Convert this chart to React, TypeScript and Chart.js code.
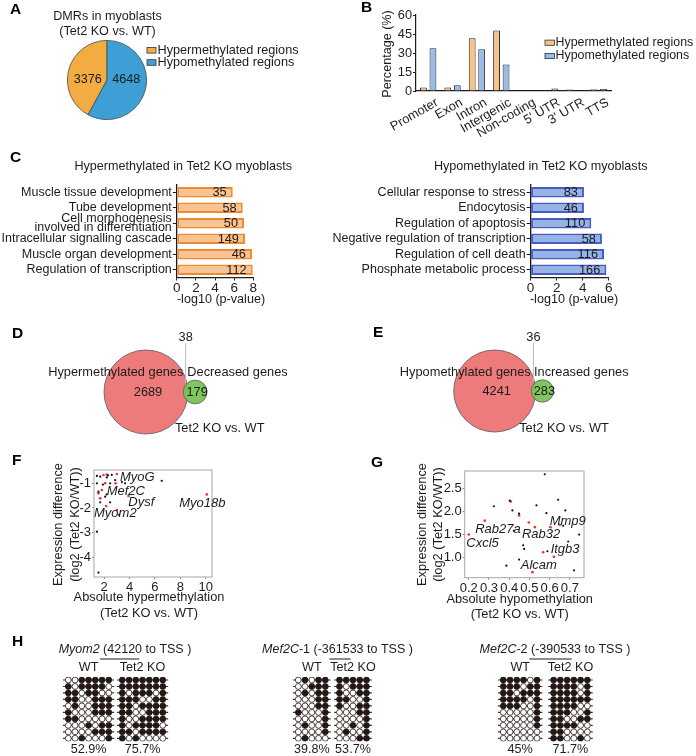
import React, { useEffect, useRef } from 'react';
import { Chart, registerables } from 'chart.js';

Chart.register(...registerables);

const W = 696;
const H = 756;
const FAMILY = "'Liberation Sans', Arial, Helvetica, sans-serif";
const INK = '#1c1c1c';
const FS = 12.6;

Chart.defaults.font.family = FAMILY;
Chart.defaults.font.size = FS;
Chart.defaults.color = INK;

// ---------------- A: DMR counts ----------------
const dmrLabels = ['Hypermethylated regions', 'Hypomethylated regions'];
const dmrCounts = [3376, 4648];
const dmrColors = ['#F2AC42', '#3D9FD6'];

// ---------------- B: genomic features ----------------
const featureLabels = ['Promoter', 'Exon', 'Intron', 'Intergenic', 'Non-coding', "5' UTR", "3' UTR", 'TTS'];
const hyperFeaturePct = [2.7, 2.7, 41.7, 47.7, 0.3, 0.3, 1.1, 1.4];
const hypoFeaturePct = [33.8, 4.5, 33.0, 21.0, 0.5, 1.9, 0.5, 1.6];
const pctTicks = [0, 15, 30, 45, 60];
const featureColors = ['#F8C28B', '#9BBCE7'];

// ---------------- C: GO terms ----------------
const hyperTitle = 'Hypermethylated in Tet2 KO myoblasts';
const hyperTerms = [
  'Muscle tissue development',
  'Tube development',
  ['Cell morphogenesis', 'involved in differentiation'],
  'Intracellular signalling cascade',
  'Muscle organ development',
  'Regulation of transcription',
];
const hyperLogP = [5.85, 6.89, 7.03, 7.13, 7.86, 7.94];
const hyperGenes = [35, 58, 50, 149, 46, 112];
const hyperTicks = [0, 2, 4, 6, 8];

const hypoTitle = 'Hypomethylated in Tet2 KO myoblasts';
const hypoTerms = [
  'Cellular response to stress',
  'Endocytosis',
  'Regulation of apoptosis',
  'Negative regulation of transcription',
  'Regulation of cell death',
  'Phosphate metabolic process',
];
const hypoLogP = [4.1, 4.1, 4.66, 5.48, 5.64, 5.82];
const hypoGenes = [83, 46, 110, 58, 116, 166];
const hypoTicks = [0, 2, 4, 6];

// ---------------- D / E: overlaps (only A, both, only B) ----------------
const vennDNames = ['Hypermethylated genes', 'Decreased genes'];
const vennDCounts = [2689, 38, 179];
const vennENames = ['Hypomethylated genes', 'Increased genes'];
const vennECounts = [4241, 36, 283];

// ---------------- F: hypermethylated & decreased ----------------
const fOtherGenes = [
  [1.43, -0.70], [1.69, -0.73], [2.21, -0.76], [2.3, -0.68], [2.6, -0.66], [2.87, -0.87],
  [3.4, -0.95], [3.65, -1.0], [6.54, -0.9], [1.43, -1.0], [1.9, -1.05], [2.47, -1.0],
  [1.55, -1.34], [2.2, -1.45], [2.08, -1.54], [1.69, -1.77], [2.47, -1.77], [3.18, -2.28],
  [1.43, -2.96], [1.55, -4.62],
];
const fMuscleGenes = [
  [1.95, -0.66], [2.21, -0.64], [3.0, -0.62], [2.08, -1.0], [2.9, -1.0], [1.82, -1.27],
  [1.55, -1.4], [1.69, -1.61], [2.16, -1.92], [3.92, -1.51], [3.0, -2.08], [10.09, -1.45],
];
const fGeneNames = ['MyoG', 'Mef2C', 'Dysf', 'Myo18b', 'Myom2'];
const fXTicks = [2, 4, 6, 8, 10];
const fYTicks = [-1, -2, -3, -4];

// ---------------- G: hypomethylated & increased ----------------
const gOtherGenes = [
  [0.576, 2.80], [0.324, 2.11], [0.403, 2.23], [0.416, 2.02], [0.449, 1.95], [0.535, 2.13],
  [0.642, 2.25], [0.678, 2.02], [0.584, 1.96], [0.746, 1.50], [0.423, 1.58], [0.469, 1.27],
  [0.474, 1.19], [0.449, 0.96], [0.386, 0.83], [0.589, 1.14], [0.721, 0.73], [0.692, 1.35],
  [0.667, 1.69],
];
const gMarkedGenes = [
  [0.2, 1.5], [0.279, 1.80], [0.408, 2.21], [0.449, 1.91], [0.497, 1.76], [0.527, 1.66],
  [0.568, 1.12], [0.604, 1.66], [0.621, 1.02], [0.515, 0.69], [0.65, 1.71],
];
const gGeneNames = ['Mmp9', 'Rab27a', 'Rab32', 'Cxcl5', 'Itgb3', 'Alcam'];
const gXTicks = [0.2, 0.3, 0.4, 0.5, 0.6, 0.7];
const gYTicks = [1.0, 1.5, 2.0, 2.5];

// ---------------- H: bisulfite clones (1 = methylated CpG) ----------------
const myom2WT = ['0011111', '1011110', '1101100', '1100111', '0100111', '1000111', '1100000', '0001011', '0000111', '0010001'];
const myom2KO = ['1111111', '1111111', '1011101', '1110011', '1101111', '1100111', '1001111', '1011110', '1101111', '1010000'];
const myom2Pct = ['52.9%', '75.7%'];
const mef2c1WT = ['01011', '00111', '01011', '00011', '00011', '10001', '00001', '01001', '00001', '01000'];
const mef2c1KO = ['11111', '10111', '10011', '11001', '10011', '00011', '00001', '00101', '01001', '00011'];
const mef2c1Pct = ['39.8%', '53.7%'];
const mef2c2WT = ['111101', '111011', '110111', '111101', '111001', '000001', '000001', '000001', '000000', '000000'];
const mef2c2KO = ['111111', '111101', '111101', '111111', '111100', '111001', '110011', '111100', '110000', '110010'];
const mef2c2Pct = ['45%', '71.7%'];
const groupNames = ['WT', 'Tet2 KO'];

// ---------------- helpers ----------------
type TOpt = { size?: number; italic?: boolean; bold?: boolean; align?: CanvasTextAlign; base?: CanvasTextBaseline; rot?: number; color?: string };

function fnt(o: TOpt) {
  return `${o.italic ? 'italic ' : ''}${o.bold ? 'bold ' : ''}${o.size ?? FS}px ${FAMILY}`;
}

function text(ctx: CanvasRenderingContext2D, t: string, x: number, y: number, o: TOpt = {}) {
  ctx.save();
  ctx.font = fnt(o);
  ctx.fillStyle = o.color ?? INK;
  ctx.textAlign = o.align ?? 'center';
  ctx.textBaseline = o.base ?? 'middle';
  ctx.translate(x, y);
  if (o.rot) ctx.rotate(o.rot);
  ctx.fillText(t, 0, 0);
  ctx.restore();
}

function letter(ctx: CanvasRenderingContext2D, t: string, x: number, y: number) {
  text(ctx, t, x, y, { bold: true, size: 15.5, align: 'left', base: 'alphabetic', color: '#000' });
}

function mixedText(ctx: CanvasRenderingContext2D, parts: { t: string; italic?: boolean }[], cx: number, y: number, size = 12.5) {
  ctx.save();
  let total = 0;
  const widths = parts.map((p) => {
    ctx.font = fnt({ size, italic: p.italic });
    const w = ctx.measureText(p.t).width;
    total += w;
    return w;
  });
  let x = cx - total / 2;
  ctx.fillStyle = INK;
  ctx.textAlign = 'left';
  ctx.textBaseline = 'middle';
  parts.forEach((p, i) => {
    ctx.font = fnt({ size, italic: p.italic });
    ctx.fillText(p.t, x, y);
    x += widths[i];
  });
  ctx.restore();
}

function seg(ctx: CanvasRenderingContext2D, x1: number, y1: number, x2: number, y2: number, color = INK, width = 1) {
  ctx.save();
  ctx.strokeStyle = color;
  ctx.lineWidth = width;
  ctx.beginPath();
  ctx.moveTo(x1, y1);
  ctx.lineTo(x2, y2);
  ctx.stroke();
  ctx.restore();
}

function swatch(ctx: CanvasRenderingContext2D, x: number, y: number, w: number, h: number, fill: string) {
  ctx.save();
  ctx.fillStyle = fill;
  ctx.fillRect(x, y, w, h);
  ctx.strokeStyle = '#333';
  ctx.lineWidth = 0.8;
  ctx.strokeRect(x, y, w, h);
  ctx.restore();
}

// chart area placed at [L,R]x[T,B] on a full-page canvas
function frame(L: number, T: number, R: number, B: number, yW = 0, xH = 0) {
  return { padding: { left: L - yW, top: T, right: W - R, bottom: H - B - xH } };
}

const noPlugins = { legend: { display: false }, tooltip: { enabled: false } };
const base = { responsive: false, animation: false, events: [] as any[] };
const fixedTicks = (vals: number[]) => (s: any) => {
  s.ticks = vals.map((value) => ({ value }));
};

// ---------------- A ----------------
function cfgA() {
  const total = dmrCounts.reduce((a, b) => a + b, 0);
  return {
    type: 'pie',
    data: {
      labels: dmrLabels,
      datasets: [{
        data: dmrCounts,
        backgroundColor: dmrColors,
        borderColor: '#4a4a4a',
        borderWidth: 0.8,
        rotation: (-360 * dmrCounts[0]) / total,
      }],
    },
    options: { ...base, layout: frame(67, 40, 147, 120), plugins: noPlugins },
    plugins: [{
      id: 'annA',
      afterDraw(chart: any) {
        const ctx = chart.ctx;
        letter(ctx, 'A', 10, 13.5);
        text(ctx, 'DMRs in myoblasts', 107.5, 17);
        text(ctx, '(Tet2 KO vs. WT)', 107.5, 32);
        chart.getDatasetMeta(0).data.forEach((arc: any, i: number) => {
          const p = arc.tooltipPosition();
          text(ctx, String(dmrCounts[i]), p.x, arc.y, { size: 12.6 });
        });
        dmrLabels.forEach((lab, i) => {
          const y = 50.3 + i * 12.2;
          swatch(ctx, 147, y - 2.8, 9, 5.6, dmrColors[i]);
          text(ctx, lab, 157.5, y, { align: 'left', size: 12.7 });
        });
      },
    }],
  };
}

// ---------------- B ----------------
function cfgB() {
  return {
    type: 'bar',
    data: {
      labels: featureLabels,
      datasets: [
        { label: dmrLabels[0], data: hyperFeaturePct, backgroundColor: featureColors[0], borderColor: '#2b2b2b', borderWidth: 1 },
        { label: dmrLabels[1], data: hypoFeaturePct, backgroundColor: featureColors[1], borderColor: '#2b2b2b', borderWidth: 1 },
      ],
    },
    options: {
      ...base,
      layout: frame(416, 15, 611, 91, 68, 49),
      plugins: noPlugins,
      datasets: { bar: { categoryPercentage: 0.78, barPercentage: 0.72 } },
      scales: {
        x: {
          grid: { display: false },
          border: { color: INK, width: 1.2 },
          ticks: { minRotation: 30, maxRotation: 30, autoSkip: false, padding: -4, labelOffset: 9, font: { size: 12.8 }, color: INK },
          afterFit: (s: any) => { s.height = 49; },
        },
        y: {
          min: 0,
          max: 60,
          afterBuildTicks: fixedTicks(pctTicks),
          grid: { drawOnChartArea: false, tickLength: 3, color: INK },
          border: { color: INK, width: 1.2 },
          ticks: { padding: 1, font: { size: 12.8 }, color: INK },
          afterFit: (s: any) => { s.width = 68; },
        },
      },
    },
    plugins: [{
      id: 'annB',
      afterDraw(chart: any) {
        const ctx = chart.ctx;
        letter(ctx, 'B', 361, 12);
        text(ctx, 'Percentage (%)', 388, 54, { rot: -Math.PI / 2 });
        chart.data.datasets.forEach((ds: any, i: number) => {
          const y = 42.7 + i * 13.3;
          swatch(ctx, 545, y - 2.6, 9.5, 5.2, ds.backgroundColor);
          text(ctx, ds.label, 555.5, y, { align: 'left', size: 12.4 });
        });
      },
    }],
  };
}

// ---------------- C ----------------
function cfgC(o: {
  terms: any[]; values: number[]; genes: number[]; ticks: number[]; max: number;
  L: number; R: number; yW: number; fill: string; stroke: string; title: string; titleX: number; axisTitleX: number; withLetter: boolean;
}) {
  return {
    type: 'bar',
    data: {
      labels: o.terms,
      datasets: [{
        data: o.values,
        backgroundColor: o.fill,
        borderColor: o.stroke,
        borderWidth: 2,
        borderSkipped: false,
        categoryPercentage: 1,
        barPercentage: 0.69,
      }],
    },
    options: {
      ...base,
      indexAxis: 'y',
      layout: frame(o.L, 184.5, o.R, 277.5, o.yW, 20),
      plugins: noPlugins,
      scales: {
        x: {
          min: 0,
          max: o.max,
          afterBuildTicks: fixedTicks(o.ticks),
          grid: { drawOnChartArea: false, tickLength: 3, color: INK },
          border: { color: INK, width: 1.3 },
          ticks: { padding: 0, maxRotation: 0, font: { size: 13.5 }, color: INK },
          afterFit: (s: any) => { s.height = 20; },
        },
        y: {
          grid: { drawOnChartArea: false, offset: false, tickLength: 4, color: INK },
          border: { color: INK, width: 1.3 },
          ticks: { padding: 1, autoSkip: false, font: { size: 12.5, lineHeight: 0.68 }, color: INK },
          afterFit: (s: any) => { s.width = o.yW; },
        },
      },
    },
    plugins: [{
      id: 'annC',
      afterDraw(chart: any) {
        const ctx = chart.ctx;
        if (o.withLetter) letter(ctx, 'C', 10, 162);
        text(ctx, o.title, o.titleX, 166.7);
        text(ctx, '-log10 (p-value)', o.axisTitleX, 299.5);
        chart.getDatasetMeta(0).data.forEach((bar: any, i: number) => {
          text(ctx, String(o.genes[i]), bar.x - 6, bar.y + 0.5, { align: 'right', size: 12.8 });
        });
      },
    }],
  };
}

// ---------------- D / E ----------------
function cfgVenn(o: {
  counts: number[]; names: string[]; cx: number; cy: number; rBig: number; letterText: string; letterX: number; letterY: number;
  nameAX: number; nameBX: number; cmpX: number;
}) {
  const [onlyA, both, onlyB] = o.counts;
  const k = o.rBig / Math.sqrt(onlyA + both);
  const rSmall = k * Math.sqrt(onlyB + both);
  const dx = o.rBig + rSmall * 0.6;
  return {
    type: 'bubble',
    data: {
      datasets: [{
        data: [{ x: 0, y: 0, r: o.rBig }, { x: dx, y: 0, r: rSmall }],
        backgroundColor: ['#EE7B7C', 'rgba(122,195,90,0.96)'],
        borderColor: '#595959',
        borderWidth: 0.8,
      }],
    },
    options: {
      ...base,
      layout: frame(o.cx - 60, o.cy - 55, o.cx + 100, o.cy + 55),
      plugins: noPlugins,
      scales: {
        x: { type: 'linear', display: false, min: -60, max: 100 },
        y: { type: 'linear', display: false, min: -55, max: 55 },
      },
    },
    plugins: [{
      id: 'annVenn',
      afterDraw(chart: any) {
        const ctx = chart.ctx;
        const xs = chart.scales.x;
        const ys = chart.scales.y;
        const xBig = xs.getPixelForValue(0);
        const xSmall = xs.getPixelForValue(dx);
        const yc = ys.getPixelForValue(0);
        const xOv = xs.getPixelForValue((o.rBig + dx - rSmall) / 2);
        letter(ctx, o.letterText, o.letterX, o.letterY);
        seg(ctx, xOv, 343, xOv, yc - 9, '#BDBDBD', 1);
        text(ctx, String(both), xOv, 337, { size: 12.8 });
        text(ctx, o.names[0], o.nameAX, 372, { size: 12.8 });
        text(ctx, o.names[1], o.nameBX, 372, { size: 12.8 });
        text(ctx, String(onlyA), xBig + 2, yc, { size: 12.8 });
        text(ctx, String(onlyB), xSmall + 2, yc, { size: 12.8 });
        text(ctx, 'Tet2 KO vs. WT', o.cmpX, 428, { size: 12.8 });
      },
    }],
  };
}

// ---------------- F / G ----------------
function cfgScatter(o: {
  other: number[][]; marked: number[][]; L: number; T: number; R: number; B: number;
  xMin: number; xMax: number; yMin: number; yMax: number; xTicks: number[]; yTicks: number[]; dec: number;
  genes: string[]; anchors: number[][]; letterText: string; letterX: number; letterY: number;
  yTitleX: number[]; yTitleY: number; xTitle: string; xTitleX: number; xTitleY: number;
}) {
  const fmt = (v: any) => (o.dec ? Number(v).toFixed(o.dec) : String(v));
  return {
    type: 'scatter',
    data: {
      datasets: [
        { data: o.other.map(([x, y]) => ({ x, y })), pointRadius: 1.1, pointBackgroundColor: '#111', pointBorderWidth: 0, pointBorderColor: 'rgba(0,0,0,0)' },
        { data: o.marked.map(([x, y]) => ({ x, y })), pointRadius: 1.3, pointBackgroundColor: '#EC3030', pointBorderWidth: 0, pointBorderColor: 'rgba(0,0,0,0)' },
      ],
    },
    options: {
      ...base,
      layout: frame(o.L, o.T, o.R, o.B, 32, 20),
      plugins: noPlugins,
      scales: {
        x: {
          type: 'linear', min: o.xMin, max: o.xMax,
          afterBuildTicks: fixedTicks(o.xTicks),
          grid: { drawOnChartArea: false, tickLength: 2, color: '#8a8a8a' },
          border: { display: false },
          ticks: { padding: 1, minRotation: 0, maxRotation: 0, autoSkip: false, font: { size: 13 }, color: INK, callback: fmt },
          afterFit: (s: any) => { s.height = 20; },
        },
        y: {
          type: 'linear', min: o.yMin, max: o.yMax,
          afterBuildTicks: fixedTicks(o.yTicks),
          grid: { drawOnChartArea: false, tickLength: 2, color: '#8a8a8a' },
          border: { display: false },
          ticks: { padding: 1, autoSkip: false, font: { size: 13 }, color: INK, callback: fmt },
          afterFit: (s: any) => { s.width = 32; },
        },
      },
    },
    plugins: [{
      id: 'annSc',
      beforeDatasetsDraw(chart: any) {
        const { ctx, chartArea: a } = chart;
        ctx.save();
        ctx.strokeStyle = '#A6A6A6';
        ctx.lineWidth = 1;
        ctx.strokeRect(a.left, a.top, a.right - a.left, a.bottom - a.top);
        ctx.restore();
      },
      afterDraw(chart: any) {
        const ctx = chart.ctx;
        const xs = chart.scales.x;
        const ys = chart.scales.y;
        letter(ctx, o.letterText, o.letterX, o.letterY);
        o.genes.forEach((g, i) => {
          text(ctx, g, xs.getPixelForValue(o.anchors[i][0]), ys.getPixelForValue(o.anchors[i][1]), { italic: true, align: 'left', size: 13 });
        });
        text(ctx, 'Expression difference', o.yTitleX[0], o.yTitleY, { rot: -Math.PI / 2, size: 12.8 });
        text(ctx, '(log2 (Tet2 KO/WT))', o.yTitleX[1], o.yTitleY, { rot: -Math.PI / 2, size: 12.8 });
        text(ctx, o.xTitle, o.xTitleX, o.xTitleY, { size: 12.8 });
        text(ctx, '(Tet2 KO vs. WT)', o.xTitleX, o.xTitleY + 15.5, { size: 12.8 });
      },
    }],
  };
}

// ---------------- H ----------------
const DOT = '#231815';
const STEP = 6.75;
function cfgMethyl(o: {
  gene: string; rest: string; wt: string[]; ko: string[]; pct: string[]; gap: number; L: number; cx: number; under: number[]; withLetter: boolean;
}) {
  const n = o.wt[0].length;
  const koOff = n - 1 + o.gap;
  const xMax = koOff + n;
  const R = o.L + (xMax + 1) * STEP;
  const pts = (rows: string[], off: number) =>
    rows.flatMap((row, r) => row.split('').map((ch, c) => ({ x: off + c, y: r, m: ch === '1' })));
  const ds = (p: { x: number; y: number; m: boolean }[]) => ({
    data: p.map(({ x, y }) => ({ x, y })),
    pointRadius: 2.95,
    pointBackgroundColor: p.map((q) => (q.m ? DOT : '#ffffff')),
    pointBorderColor: DOT,
    pointBorderWidth: 0.8,
  });
  return {
    type: 'scatter',
    data: { datasets: [ds(pts(o.wt, 0)), ds(pts(o.ko, koOff))] },
    options: {
      ...base,
      layout: frame(o.L, 676.76, R, 741.56),
      plugins: noPlugins,
      scales: {
        x: { type: 'linear', display: false, min: -1, max: xMax },
        y: { type: 'linear', display: false, min: -0.5, max: 9.5, reverse: true },
      },
    },
    plugins: [{
      id: 'annH',
      beforeDatasetsDraw(chart: any) {
        const ctx = chart.ctx;
        const xs = chart.scales.x;
        const ys = chart.scales.y;
        for (let r = 0; r < o.wt.length; r++) {
          const y = ys.getPixelForValue(r);
          [0, koOff].forEach((off) => {
            seg(ctx, xs.getPixelForValue(off - 0.8), y, xs.getPixelForValue(off + n - 1 + 0.8), y, '#3a3a3a', 1.2);
          });
        }
      },
      afterDraw(chart: any) {
        const ctx = chart.ctx;
        const xs = chart.scales.x;
        if (o.withLetter) letter(ctx, 'H', 12, 646);
        mixedText(ctx, [{ t: o.gene, italic: true }, { t: o.rest }], o.cx, 650, 12.5);
        seg(ctx, o.under[0], 659, o.under[1], 659, INK, 1);
        [0, koOff].forEach((off, i) => {
          const gx = xs.getPixelForValue(off + (n - 1) / 2);
          text(ctx, groupNames[i], gx, 667.7, { size: 12.6 });
          text(ctx, o.pct[i], gx, 749.3, { size: 12.6 });
        });
      },
    }],
  };
}

const builders: (() => any)[] = [
  cfgA,
  cfgB,
  () => cfgC({
    terms: hyperTerms, values: hyperLogP, genes: hyperGenes, ticks: hyperTicks, max: 8,
    L: 176.8, R: 253.3, yW: 176.8, fill: '#F9C393', stroke: '#EF8B2E', title: hyperTitle, titleX: 183.3, axisTitleX: 221, withLetter: true,
  }),
  () => cfgC({
    terms: hypoTerms, values: hypoLogP, genes: hypoGenes, ticks: hypoTicks, max: 6,
    L: 530.6, R: 608.7, yW: 215, fill: '#93B4E4', stroke: '#4A5BC6', title: hypoTitle, titleX: 540.7, axisTitleX: 574, withLetter: false,
  }),
  () => cfgVenn({
    counts: vennDCounts, names: vennDNames, cx: 146, cy: 392, rBig: 42, letterText: 'D', letterX: 12, letterY: 338.3,
    nameAX: 115.8, nameBX: 237.5, cmpX: 219.7,
  }),
  () => cfgVenn({
    counts: vennECounts, names: vennENames, cx: 494.7, cy: 391, rBig: 41, letterText: 'E', letterX: 373, letterY: 337.3,
    nameAX: 465.3, nameBX: 581.3, cmpX: 564,
  }),
  () => cfgScatter({
    other: fOtherGenes, marked: fMuscleGenes, L: 94, T: 470, R: 212, B: 577,
    xMin: 1.2, xMax: 10.5, yMin: -4.8, yMax: -0.46, xTicks: fXTicks, yTicks: fYTicks, dec: 0,
    genes: fGeneNames, anchors: [[3.25, -0.78], [2.2, -1.34], [3.9, -1.76], [7.92, -1.8], [1.2, -2.24]],
    letterText: 'F', letterX: 12, letterY: 465.3,
    yTitleX: [58, 75], yTitleY: 524.5, xTitle: 'Absolute hypermethylation', xTitleX: 149, xTitleY: 597.5,
  }),
  () => cfgScatter({
    other: gOtherGenes, marked: gMarkedGenes, L: 464.7, T: 471, R: 584, B: 577.7,
    xMin: 0.18, xMax: 0.77, yMin: 0.57, yMax: 2.87, xTicks: gXTicks, yTicks: gYTicks, dec: 1,
    genes: gGeneNames, anchors: [[0.6, 1.78], [0.232, 1.62], [0.463, 1.51], [0.188, 1.30], [0.605, 1.17], [0.457, 0.84]],
    letterText: 'G', letterX: 371, letterY: 467,
    yTitleX: [422, 438], yTitleY: 524.5, xTitle: 'Absolute hypomethylation', xTitleX: 519.7, xTitleY: 599,
  }),
  () => cfgMethyl({ gene: 'Myom2', rest: ' (42120 to TSS )', wt: myom2WT, ko: myom2KO, pct: myom2Pct, gap: 2.0, L: 61.55, cx: 125, under: [100, 139.3], withLetter: true }),
  () => cfgMethyl({ gene: 'Mef2C', rest: '-1 (-361533 to TSS )', wt: mef2c1WT, ko: mef2c1KO, pct: mef2c1Pct, gap: 2.1, L: 291.55, cx: 337.5, under: [329.3, 350.7], withLetter: false }),
  () => cfgMethyl({ gene: 'Mef2C', rest: '-2 (-390533 to TSS )', wt: mef2c2WT, ko: mef2c2KO, pct: mef2c2Pct, gap: 2.45, L: 496.55, cx: 555, under: [529.3, 571.7], withLetter: false }),
];

export default function App() {
  const refs = useRef<(HTMLCanvasElement | null)[]>([]);

  useEffect(() => {
    const charts = builders.map((b, i) => new Chart(refs.current[i] as HTMLCanvasElement, b()));
    return () => charts.forEach((c) => c.destroy());
  }, []);

  return (
    <div style={{ position: 'absolute', left: 0, top: 0, width: W, height: H, background: '#ffffff', overflow: 'hidden' }}>
      {builders.map((_, i) => (
        <canvas
          key={i}
          ref={(el) => { refs.current[i] = el; }}
          width={W}
          height={H}
          style={{ position: 'absolute', left: 0, top: 0, width: W, height: H }}
        />
      ))}
    </div>
  );
}
